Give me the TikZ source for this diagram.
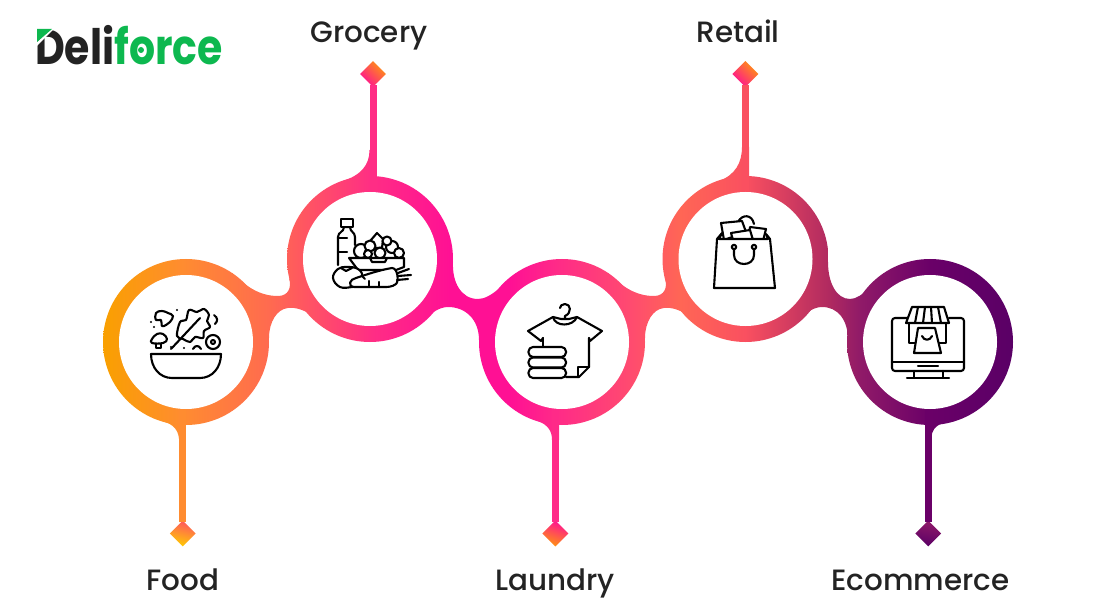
\documentclass[tikz,border=0pt]{standalone}
\usepackage{fontspec}
\setmainfont{Poppins}
\newfontfamily\labelfont{Poppins Medium}
\usetikzlibrary{shapes.geometric}
\definecolor{cA}{HTML}{F9A000}
\definecolor{cB}{HTML}{FF8C30}
\definecolor{cC}{HTML}{FF6A50}
\definecolor{cD}{HTML}{FF2D85}
\definecolor{cE}{HTML}{FF1094}
\definecolor{cF}{HTML}{FF2A88}
\definecolor{cG}{HTML}{FF4A70}
\definecolor{cH}{HTML}{FF6655}
\definecolor{cI}{HTML}{FA5060}
\definecolor{cJ}{HTML}{B02A60}
\definecolor{cK}{HTML}{901A68}
\definecolor{cL}{HTML}{6A0068}
\definecolor{cM}{HTML}{5A0066}
\definecolor{ink}{HTML}{232323}
\definecolor{logogreen}{HTML}{0DB84F}
\definecolor{FoodL}{HTML}{FF5560}
\definecolor{FoodR}{HTML}{FFCC00}
\definecolor{TipO}{HTML}{FF9410}
\pgfdeclarehorizontalshading{band}{100bp}{color(0bp)=(cA);color(25bp)=(cA);color(29.34bp)=(cB);color(34.18bp)=(cC);color(39.84bp)=(cD);color(44.07bp)=(cE);color(47.36bp)=(cE);color(49.84bp)=(cF);color(53.9bp)=(cG);color(56.7bp)=(cH);color(60.27bp)=(cI);color(64.89bp)=(cJ);color(66.59bp)=(cK);color(70.44bp)=(cL);color(75bp)=(cM);color(100bp)=(cM)}
\newcommand{\bandfill}[1]{\begin{scope}\clip #1;\shade[shading=band] (103,0) rectangle (1013,615);\end{scope}}
\tikzset{
  label text/.style={font=\labelfont\fontsize{29.5}{34}\selectfont,text=ink,inner sep=0pt,anchor=base},
  stem/.style={line width=7bp,shorten <=-2bp},
  hole/.style={circle,fill=white,inner sep=0pt,minimum size=134bp},
  tip/.style={diamond,aspect=1,inner sep=0pt,minimum width=26bp,minimum height=26bp},
  icon/.style={draw=black,line width=2.1bp,line join=round,line cap=round},
  iconw/.style={icon,fill=white},
}
\begin{document}
\begin{tikzpicture}[x=1bp,y=-1bp]
\useasboundingbox (0,0) rectangle (1118,615);
\coordinate (foodC) at (186,342);
\coordinate (groceryC) at (370,259);
\coordinate (laundryC) at (562,342);
\coordinate (retailC) at (745.5,259);
\coordinate (ecomC) at (930,342);
% rings and bridges, one gradient across the whole band
\foreach \c in {foodC,groceryC,laundryC,retailC,ecomC}{\bandfill{(\c) circle (83)}}
\bandfill{(232,273) .. controls (245,285) and (258,296) .. (278,296) .. controls (288,296) and (292,288) .. (289,278) -- (316,318) .. controls (305,310) and (296,307) .. (288,308) .. controls (277,309) and (269,322) .. (269,338) -- cycle}
\bandfill{(453,262) .. controls (452,282) and (461,299) .. (478,299) .. controls (492,299) and (505,281) .. (522,271) -- (479,340) .. controls (479,320) and (466,307) .. (448,307) .. controls (438,307) and (428,315) .. (418,326) -- cycle}
\bandfill{(608,273) .. controls (621,285) and (634,296) .. (654,296) .. controls (664,296) and (668,288) .. (665,278) -- (692,318) .. controls (681,310) and (672,307) .. (664,308) .. controls (653,309) and (645,322) .. (645,338) -- cycle}
\bandfill{(828,262) .. controls (828,282) and (836,299) .. (850,299) .. controls (862,299) and (875,281) .. (890,271) -- (848,340) .. controls (848,320) and (838,307) .. (822,307) .. controls (812,307) and (803,315) .. (794,326) -- cycle}
% stem fillets
\bandfill{(179.2,443) .. controls (179.2,431) and (175,424) .. (160,420.5) -- (186.2,415) -- (186.2,443) -- cycle}
\bandfill{(369.5,150) .. controls (369.5,165) and (361,175) .. (343,181) -- (376.5,185) -- (376.5,150) -- cycle}
\bandfill{(552,440) .. controls (552,431) and (548,425) .. (538,421) -- (559,415) -- (559,440) -- cycle}
\bandfill{(742,147) .. controls (742,163) and (735,175) .. (719,181) -- (749,185) -- (749,147) -- cycle}
\bandfill{(931.5,438) .. controls (931.5,431) and (935,426) .. (942,423.5) -- (925,415) -- (925,438) -- cycle}
% end diamonds
\node[tip,left color=FoodL,right color=FoodR,shading angle=-15] (foodTip) at (182.7,533.5) {};
\node[tip,left color=TipO,right color=cE,shading angle=-45] (groceryTip) at (373,74) {};
\node[tip,left color=cE,right color=TipO,shading angle=-20] (laundryTip) at (555.4,533.5) {};
\node[tip,left color=TipO,right color=cE,shading angle=-45] (retailTip) at (745.4,74) {};
\node[tip,left color=cK,right color=cM,shading angle=-10] (ecomTip) at (928.2,533.5) {};
% stems
\draw[stem,cB] (foodTip.north) -- (foodTip |- foodC);
\draw[stem,cD] (groceryTip.south) -- (groceryTip |- groceryC);
\draw[stem,cF] (laundryTip.north) -- (laundryTip |- laundryC);
\draw[stem,cI] (retailTip.south) -- (retailTip |- retailC);
\draw[stem,cL] (ecomTip.north) -- (ecomTip |- ecomC);
% white centres
\node[hole] (food) at (foodC) {};
\node[hole] (grocery) at (groceryC) {};
\node[hole] (laundry) at (laundryC) {};
\node[hole] (retail) at (retailC) {};
\node[hole] (ecom) at (ecomC) {};
% labels
\node[label text] (tFood) at (183,590) {Food};
\node[label text] (tGrocery) at (369,43) {Grocery};
\node[label text] (tLaundry) at (555,590) {Laundry};
\node[label text] (tRetail) at (738,43) {Retail};
\node[label text] (tEcom) at (920.5,590) {Ecommerce};
% logo
\node[inner sep=0pt,anchor=base west,xscale=.84,font=\bfseries\fontsize{49}{52}\selectfont] (logo) at (35,65) {\textcolor{ink}{Deli}\textcolor{logogreen}{force}};
\draw[white,line width=2.5bp] (35,46) -- (55,26);
\fill[logogreen] (37,29) -- (52,29) -- (37,42) -- cycle;
\fill[logogreen] (141,50) circle (3);
% food icon
\draw[icon] (151,354) -- (221,354) .. controls (221,368) and (212,378) .. (200,378) -- (172,378) .. controls (160,378) and (151,368) .. (151,354) -- cycle;
\draw[icon] (171,349) -- (200,318);
\draw[icon] plot[smooth cycle,tension=.6] coordinates {(177,336) (180,322) (186,320) (189,310) (197,312) (204,309) (209,315) (207,321) (210,327) (204,331) (203,338) (195,337) (190,342) (183,339)};
\draw[icon] plot[smooth cycle,tension=.7] coordinates {(156,313) (162,311) (168,313) (173,316) (170,322) (166,325) (162,326) (161,320) (156,320)};
\draw[icon] plot[smooth cycle,tension=.7] coordinates {(152,339) (157,334) (163,334) (167,339) (163,343) (152,343)};
\draw[icon] (156,344) -- (156,348) -- (161,348) -- (161,344);
\draw[icon] (213,342) circle (7);
\draw[icon] (213,342) circle (2);
\draw[icon] (214,315) .. controls (218,318) and (218,321) .. (215,324);
\draw[icon] (193,349) .. controls (195,345) and (199,345) .. (201,349);
\foreach \p in {(151,322),(177,310),(154,327),(184,348),(171,347)} \fill \p circle (1.2);
% grocery icon
\draw[icon] (338,265) -- (338,237) .. controls (338,232) and (344,232) .. (344,227) -- (350,227) .. controls (350,232) and (355,232) .. (355,237) -- (355,245);
\draw[iconw] (341,219) rectangle (353,227);
\draw[icon] (338,238) -- (347,238);
\draw[icon] (338,252) -- (347,252);
\draw[iconw] (377,233) -- (383,239) -- (382,248) -- (373,248) -- (371,240) -- cycle;
\draw[iconw] (392,247) circle (6);
\draw[iconw] (387,241) circle (4.5);
\draw[iconw] (399,253) circle (5);
\draw[iconw] (361,251) circle (7);
\draw[iconw] (370,246) circle (5.5);
\draw[iconw] (380,253) circle (5.5);
\draw[iconw] (368,254) circle (4);
\draw[iconw] (349,258) -- (404,258) -- (404,267) -- (396,270) -- (358,270) -- cycle;
\draw[icon] (370,258) -- (372,262) -- (385,262) -- (387,258);
\draw[iconw] plot[smooth cycle,tension=.7] coordinates {(333,278) (338,269) (347,267) (358,269) (363,277) (360,285) (352,287) (340,287)};
\draw[icon] (341,268) -- (346,271) -- (352,268);
\draw[iconw] (354,287) .. controls (347,286) and (350,279) .. (356,278) .. controls (368,274) and (380,270) .. (392,268) .. controls (398,268) and (399,282) .. (396,284) .. controls (392,287) and (388,287) .. (384,287) -- cycle;
\draw[icon] (369,287) -- (369,281);
\draw[icon] (379,287) -- (379,282);
\draw[icon] (362,276) -- (365,279);
\draw[icon] (398,273) -- (409,269);
\draw[icon] (398,276) -- (411,275);
\draw[icon] (397,280) -- (408,279);
% laundry icon
\draw[icon] (553,317) -- (528,331) -- (541,341) -- (543,338);
\draw[icon] (577,317) -- (602,331) -- (590,341) -- (589,338);
\draw[icon] (543,338) -- (543,347);
\draw[icon] (589,338) -- (589,367) -- (579,377) -- (566,377);
\draw[icon] (589,367) -- (578,367) -- (578,377);
\draw[icon] (553,317) .. controls (555,327) and (573,327) .. (577,317);
\draw[icon] (553,317) -- (561,319) -- (569,319) -- (577,317);
\draw[icon] (565,319) -- (565,316) .. controls (572,313) and (571,304) .. (565,304) .. controls (562,304) and (560,306) .. (560,308);
\foreach \yy in {347,357.5,368}{\draw[iconw,rounded corners=4.5bp] (528.5,\yy) rectangle (566,\yy+10);}
% retail icon
\draw[icon] (738,222) .. controls (742,214) and (752,214) .. (754,224);
\draw[iconw] (721,223) -- (742,221) -- (746,232) -- (724,240) -- cycle;
\draw[iconw] (750,227) -- (766,229) -- (763,241) -- (748,241) -- cycle;
\draw[iconw] (731,233) -- (750,230) -- (753,240) -- (733,240) -- cycle;
\draw[iconw] (722,233) -- (717,239) -- (714,288) -- (775,288) -- (770,239) -- (766,234) -- (768,239) -- (719,239) -- cycle;
\draw[icon] (734,249) -- (734,255) .. controls (734,267) and (754,267) .. (754,255) -- (754,249);
\draw[icon] (734,247) circle (2.2);
\draw[icon] (754,247) circle (2.2);
% ecommerce icon
\draw[icon,rounded corners=3bp] (907,318) -- (892,318) -- (892,371) -- (964,371) -- (964,318) -- (949,318);
\draw[icon] (892,362) -- (964,362);
\draw[icon] (918,366) -- (938,366);
\draw[icon] (914,371) -- (914,377);
\draw[icon] (943,371) -- (943,377);
\draw[icon] (907,378) -- (949,378);
\draw[iconw] (909,323) -- (909,343) -- (946,343) -- (946,323) -- cycle;
\draw[iconw] (912,307) -- (944,307) -- (949,323) -- (906,323) -- cycle;
\foreach \a/\b in {918/915,925/923,931/932,938/941}{\draw[icon] (\a,307) -- (\b,323);}
\draw[iconw] (918,328) -- (935,328) -- (941,353) -- (914,353) -- cycle;
\draw[icon] (922,336) .. controls (924,341) and (930,341) .. (932,336);
\end{tikzpicture}
\end{document}
